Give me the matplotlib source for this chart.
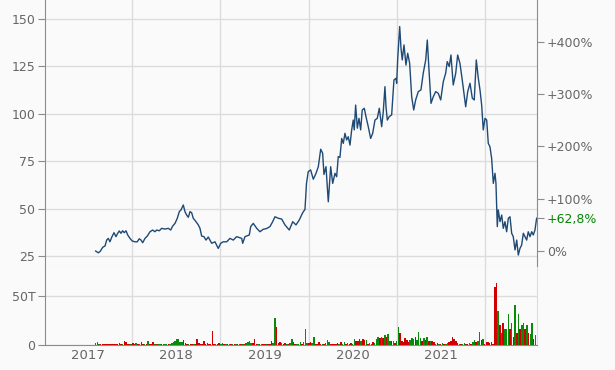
import numpy as np
import matplotlib
matplotlib.use('Agg')
import matplotlib.pyplot as plt
from matplotlib.ticker import FixedLocator

# ===== 数据 =====
# 时间 (年, 小数), 收盘价
t = [2017.087, 2017.117, 2017.136, 2017.167, 2017.193, 2017.212, 2017.230, 2017.249,
     2017.269, 2017.295, 2017.317, 2017.337, 2017.355, 2017.374, 2017.393, 2017.411,
     2017.431, 2017.450, 2017.476, 2017.502, 2017.533, 2017.559, 2017.581, 2017.601,
     2017.620, 2017.646, 2017.672, 2017.703, 2017.733, 2017.759, 2017.778, 2017.808,
     2017.835, 2017.873, 2017.910, 2017.937, 2017.960, 2017.986, 2018.012, 2018.035,
     2018.054, 2018.080, 2018.099, 2018.118, 2018.137, 2018.156, 2018.175, 2018.193,
     2018.224, 2018.250, 2018.269, 2018.288, 2018.314, 2018.337, 2018.363, 2018.402,
     2018.439, 2018.476, 2018.504, 2018.533, 2018.572, 2018.609, 2018.646, 2018.685,
     2018.742, 2018.753, 2018.779, 2018.828, 2018.844, 2018.873, 2018.912, 2018.949,
     2018.986, 2019.025, 2019.062, 2019.093, 2019.119, 2019.156, 2019.195, 2019.232,
     2019.281, 2019.320, 2019.357, 2019.394, 2019.433, 2019.459, 2019.476, 2019.496,
     2019.523, 2019.553, 2019.584, 2019.610, 2019.637, 2019.659, 2019.674, 2019.697,
     2019.723, 2019.750, 2019.773, 2019.799, 2019.818, 2019.836, 2019.855, 2019.875,
     2019.893, 2019.912, 2019.931, 2019.949, 2019.969, 2019.988, 2020.006, 2020.017,
     2020.033, 2020.052, 2020.071, 2020.090, 2020.108, 2020.131, 2020.150, 2020.176,
     2020.203, 2020.226, 2020.252, 2020.278, 2020.301, 2020.328, 2020.346, 2020.365,
     2020.377, 2020.392, 2020.414, 2020.441, 2020.467, 2020.490, 2020.498, 2020.509,
     2020.532, 2020.547, 2020.561, 2020.581, 2020.603, 2020.623, 2020.645, 2020.668,
     2020.691, 2020.713, 2020.743, 2020.773, 2020.799, 2020.827, 2020.845, 2020.864,
     2020.887, 2020.913, 2020.940, 2020.969, 2020.997, 2021.026, 2021.053, 2021.071,
     2021.094, 2021.113, 2021.139, 2021.167, 2021.189, 2021.215, 2021.241, 2021.280,
     2021.303, 2021.329, 2021.355, 2021.377, 2021.400, 2021.423, 2021.442, 2021.461,
     2021.479, 2021.499, 2021.518, 2021.536, 2021.555, 2021.574, 2021.593, 2021.612,
     2021.623, 2021.638, 2021.649, 2021.669, 2021.688, 2021.706, 2021.725, 2021.744,
     2021.763, 2021.782, 2021.801, 2021.819, 2021.839, 2021.858, 2021.876, 2021.895,
     2021.914, 2021.933, 2021.952, 2021.971, 2021.989, 2022.009, 2022.028, 2022.046,
     2022.065, 2022.084]

price = [27.6, 26.7, 27.3, 29.6, 30.3, 33.4, 34.3, 32.5,
         34.9, 37.3, 35.2, 37.0, 38.2, 37.0, 38.3, 37.3,
         38.3, 36.1, 34.3, 32.9, 32.5, 32.5, 34.1, 33.4,
         32.0, 34.3, 35.5, 37.8, 38.7, 37.8, 38.7, 38.3,
         39.6, 39.2, 39.6, 38.7, 40.8, 42.2, 44.9, 48.4,
         49.3, 51.9, 48.4, 46.6, 45.4, 48.4, 47.8, 44.9,
         43.1, 41.4, 39.6, 35.5, 35.2, 33.4, 35.0, 31.7,
         32.5, 29.0, 31.7, 32.5, 32.5, 34.3, 33.4, 35.2,
         34.3, 31.7, 35.2, 36.1, 40.5, 42.2, 39.6, 37.8,
         39.1, 39.5, 40.5, 43.1, 45.7, 44.9, 44.5, 41.4,
         38.7, 43.1, 41.4, 44.0, 47.8, 49.6, 63.3, 69.5,
         70.4, 65.5, 68.6, 72.1, 81.3, 79.2, 68.0, 72.1,
         53.6, 72.1, 63.3, 68.6, 66.8, 77.4, 77.0, 87.0,
         84.4, 89.7, 86.2, 87.9, 83.5, 91.5, 96.7, 91.5,
         104.6, 92.4, 97.6, 91.5, 102.0, 102.9, 98.5, 93.2,
         87.0, 89.7, 96.7, 97.6, 102.9, 93.2, 101.1, 114.3,
         103.7, 96.7, 98.5, 99.4, 117.8, 118.7, 116.1, 128.4,
         146.0, 134.5, 128.4, 136.3, 125.7, 131.9, 126.6, 109.0,
         102.0, 107.3, 111.7, 112.6, 121.4, 128.4, 138.9, 123.1,
         105.5, 109.0, 111.7, 110.8, 107.3, 116.9, 121.4, 127.5,
         124.9, 131.0, 115.2, 121.4, 131.0, 126.6, 117.8, 103.7,
         111.7, 116.1, 108.2, 107.3, 128.4, 118.7, 112.6, 104.6,
         91.5, 97.6, 96.7, 84.4, 82.6, 76.5, 63.3, 68.6,
         63.3, 40.5, 49.3, 43.1, 46.6, 39.6, 43.1, 37.8,
         44.9, 45.7, 37.0, 35.2, 28.2, 33.4, 25.5, 29.0,
         30.8, 37.0, 35.2, 33.4, 37.8, 35.2, 37.8, 36.1,
         38.7, 44.93]

# 周成交量 (T), 从 2017.087 起每周一根
vol_start = 2017.087
volume = [2, 3, 1, 1, 1, 1, 1, 1, 1, 1, 1, 1, 1, 1, 2, 1, 1, 4, 3, 1,
          1, 1, 2, 1, 2, 1, 1, 3, 1, 1, 1, 4, 1, 1, 3, 1, 1, 1, 1, 1,
          1, 1, 1, 1, 1, 2, 3, 4, 6, 6, 3, 3, 5, 2, 1, 1, 1, 1, 1, 1,
          6, 2, 1, 1, 4, 1, 2, 1, 1, 14, 1, 1, 1, 2, 1, 2, 1, 1, 1, 1,
          1, 1, 1, 1, 1, 1, 1, 1, 1, 2, 3, 4, 2, 2, 6, 1, 1, 1, 1, 1,
          1, 1, 1, 1, 4, 2, 28, 18, 2, 3, 2, 1, 2, 1, 1, 2, 6, 3, 1, 1,
          1, 3, 1, 3, 16, 2, 2, 3, 2, 8, 1, 1, 3, 1, 1, 1, 2, 5, 3, 1,
          1, 1, 1, 2, 1, 3, 1, 3, 1, 2, 1, 2, 1, 6, 4, 4, 6, 4, 6, 5,
          5, 1, 2, 1, 3, 2, 6, 8, 7, 8, 7, 10, 8, 11, 4, 4, 4, 2, 4, 18,
          12, 4, 3, 7, 5, 3, 5, 7, 6, 8, 5, 13, 7, 4, 7, 5, 8, 4, 4, 4,
          3, 1, 2, 1, 1, 2, 1, 1, 2, 3, 4, 8, 6, 4, 2, 1, 1, 1, 2, 1,
          1, 2, 1, 3, 5, 3, 4, 13, 5, 6, 1, 3, 3, 2, 3, 1, 59, 63, 35, 20,
          12, 22, 16, 16, 32, 16, 22, 8, 41, 12, 32, 16, 20, 22, 16, 20, 12, 11, 22, 6,
          10]
# 涨跌颜色: g=涨, r=跌
vol_dir = ('gggrrrrrrrrrrrrrgrrr'
           'rgrrgrgrrgrgrrrgrggr'
           'gggrggggggggrrrgrrgr'
           'rrrrrrrrrrrgrrggrgrg'
           'rgrgrgrgrggggrrrgrgr'
           'rgrrrggrrrgrrgrggrrg'
           'ggrgggrrggrrrrgrgggr'
           'rrrrgrggrgrrggrrrgrr'
           'grggrgggrgrgrggrgrgg'
           'rrrrrrgggrgggrgrgrgr'
           'rgrgrgrggrrrrrrgrggr'
           'rgrggrggrgrrrrrrrrgr'
           'grgggrgrgrgrggrgrggrg')

price_color = '#1f4a75'
up_color = '#0a8a0a'
down_color = '#d00000'
grid_color = '#dcdcdc'
axis_color = '#8c8c8c'
text_color = '#666666'
bg = '#fafafa'

plt.rcParams['font.family'] = ['DejaVu Sans']
plt.rcParams['font.size'] = 9

fig = plt.figure(figsize=(6.15, 3.70), dpi=100, facecolor=bg)
ax = fig.add_axes([45 / 615, 1 - 266 / 370, 492 / 615, 266 / 370])
vax = fig.add_axes([45 / 615, 1 - 345 / 370, 492 / 615, 79 / 370], sharex=ax)

x_lo, x_hi = 2016.513, 2022.088
p_lo, p_hi = 19.73, 160.0
base = price[0]

# ===== 价格 =====
ax.set_facecolor(bg)
ax.plot(t, price, color=price_color, lw=1.0, zorder=3)
ax.set_xlim(x_lo, x_hi)
ax.set_ylim(p_lo, p_hi)
ax.set_yticks([25, 50, 75, 100, 125, 150])
ax.xaxis.set_major_locator(FixedLocator([2017, 2018, 2019, 2020, 2021]))
ax.xaxis.set_minor_locator(FixedLocator([2017.5, 2018.5, 2019.5, 2020.5, 2021.5]))
ax.grid(axis='y', color=grid_color, lw=1)
ax.grid(axis='x', which='minor', color=grid_color, lw=1)
ax.tick_params(axis='x', which='both', length=0, labelbottom=False)
ax.tick_params(axis='y', length=5, color=axis_color, labelcolor=text_color, pad=2)
ax.spines['top'].set_visible(False)
ax.spines['right'].set_visible(False)
ax.spines['left'].set_color(axis_color)
ax.spines['bottom'].set_color(grid_color)

# 右轴: 涨幅 %
ax2 = ax.twinx()
ax2.set_ylim((p_lo / base - 1) * 100, (p_hi / base - 1) * 100)
pct_last = (price[-1] / base - 1) * 100
ax2.set_yticks([0, 100, 200, 300, 400, pct_last])
ax2.set_yticklabels(['0%', '+100%', '+200%', '+300%', '+400%',
                     '+' + f'{pct_last:.1f}'.replace('.', ',') + '%'])
ax2.tick_params(axis='y', length=5, color=axis_color, labelcolor=text_color, pad=2)
ax2.get_yticklabels()[-1].set_color('#008800')
for s in ['top', 'left', 'bottom']:
    ax2.spines[s].set_visible(False)
ax2.spines['right'].set_color(axis_color)

# ===== 成交量 =====
vax.set_facecolor(bg)
week = 1 / 52.18
vt = [vol_start + i * week for i in range(len(volume))]
vcol = [up_color if c == 'g' else down_color for c in vol_dir[:len(volume)]]
vax.bar(vt, volume, width=week * 0.9, color=vcol, linewidth=0, zorder=3)
vax.set_ylim(0, 80.6)
vax.set_yticks([0, 50])
vax.set_yticklabels(['0', '50T'])
vax.grid(axis='y', color=grid_color, lw=1)
vax.grid(axis='x', which='minor', color=grid_color, lw=1)
vax.tick_params(axis='y', length=5, color=axis_color, labelcolor=text_color, pad=2)
vax.tick_params(axis='x', which='both', length=0, labelcolor=text_color, pad=3, labelsize=9.5)
vax.set_xticklabels(['2017', '2018', '2019', '2020', '2021'])
vax.spines['top'].set_visible(False)
vax.spines['right'].set_color(grid_color)
vax.spines['left'].set_color(axis_color)
vax.spines['bottom'].set_color(axis_color)

fig.savefig('out.png', dpi=100, facecolor=bg)
